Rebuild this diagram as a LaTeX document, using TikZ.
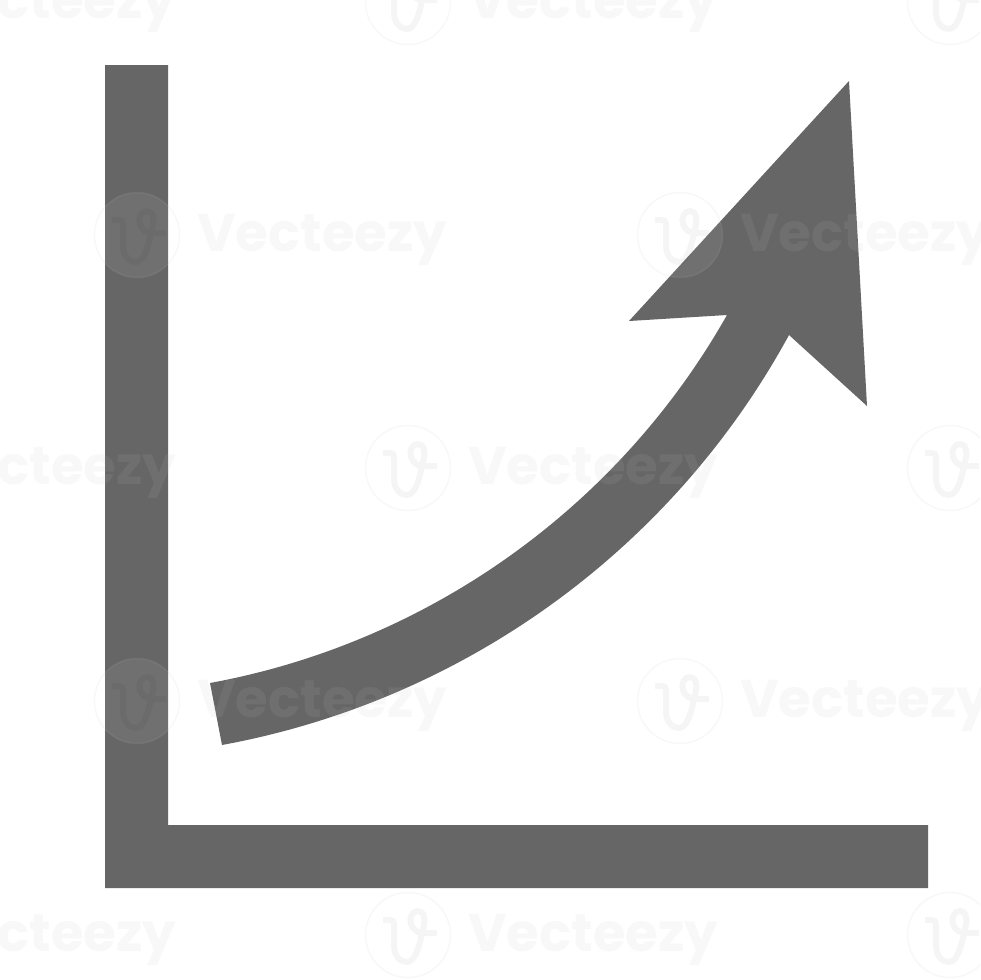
\documentclass[tikz,border=0pt]{standalone}
\usepackage{fontspec}
\setmainfont{Poppins}
\definecolor{icon}{HTML}{666666}
\definecolor{wmark}{HTML}{C0C0C0}
\tikzset{
  iconfill/.style={fill=icon,draw=none},
  wmarktext/.style={font=\fontsize{53}{53}\selectfont\bfseries,anchor=west,inner sep=0pt,text=wmark,text opacity=.111}
}
\newcommand{\wmglyph}{(-25,-15) -- (-18,-15) .. controls (-13,-15) and (-14,-10) .. (-14,-4) -- (-14,10) .. controls (-14,22) and (-7,27) .. (-1,27) .. controls (8,27) and (12,8) .. (15,-6) .. controls (18,-16) and (16,-24) .. (10,-24) .. controls (4,-24) and (1,-17) .. (3,-11) .. controls (5,-5) and (10,-2) .. (15,-2) -- (29,-2)}
% the watermark is laid over everything: faint on white, paler than the icon on grey
\newcommand{\wmover}[2]{%
  \begin{scope}[shift={(#1,#2)}]
    \fill[white,opacity=.07] (0,0) circle[radius=42.5];
    \draw[wmark,opacity=.111,line width=1.5pt] (0,0) circle[radius=42.5];
    \draw[black,opacity=.04,line width=6pt] \wmglyph;
    \node[wmarktext] at (60,5) {Vecteezy};
  \end{scope}}
\begin{document}
\begin{tikzpicture}[x=1pt,y=-1pt]
\useasboundingbox (0,0) rectangle (980,980);
\clip (0,0) rectangle (980,980);
\fill[white] (0,0) rectangle (980,980);
\fill[iconfill] (105,65) -- (168,65) -- (168,825) -- (928,825) -- (928,888) -- (105,888) -- cycle;
\fill[iconfill] (849,81) -- (867,406) -- (789,335)
  .. controls (671.7,550.2) and (463,700.7) .. (222,745)
  -- (210,683)
  .. controls (428,643) and (618,507.7) .. (727,315)
  -- (629,321) -- cycle;
\foreach \xx/\yy in {-134/2,408/2,950/2,137/235,680/235,-134/468,408/468,950/468,137/701,680/701,-134/935,408/935,950/935}{
  \wmover{\xx}{\yy}
}
\end{tikzpicture}
\end{document}
